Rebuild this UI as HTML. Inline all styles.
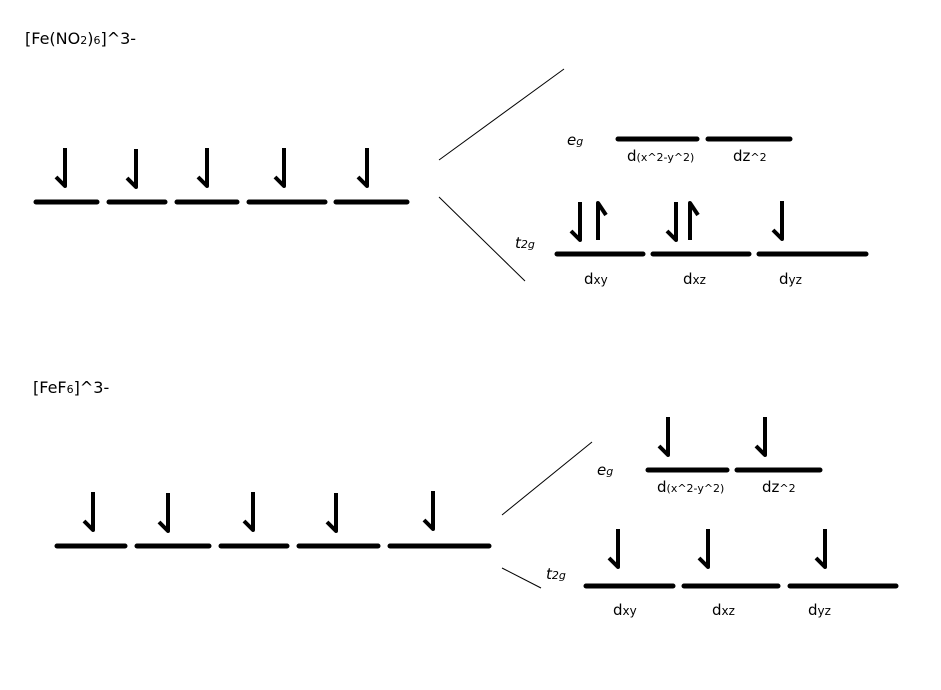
<!DOCTYPE html>
<html><head><style>
html,body{margin:0;padding:0;background:#fff;}
svg{display:block;font-family:"DejaVu Sans","Liberation Sans",sans-serif;}
.l{stroke:#000;stroke-width:5;stroke-linecap:round}
.a{stroke:#000;stroke-width:4;fill:none;stroke-linejoin:round}
.t{stroke:#000;stroke-width:1;}
text{fill:#000}
</style></head><body>
<svg width="941" height="690" viewBox="0 0 941 690" xmlns="http://www.w3.org/2000/svg">
<defs>
<path id="dn" class="a" d="M0 -38 L0 0 L-9 -9"/>
<path id="up" class="a" d="M0 0 L0 -37 L8 -25"/>
</defs>
<text x="25" y="44" font-size="16">[Fe(NO<tspan font-size="11">2</tspan>)<tspan font-size="11">6</tspan>]^3-</text>
<!-- top left levels -->
<line class="l" x1="36" y1="202" x2="97" y2="202"/>
<line class="l" x1="109" y1="202" x2="165" y2="202"/>
<line class="l" x1="177" y1="202" x2="237" y2="202"/>
<line class="l" x1="249" y1="202" x2="325" y2="202"/>
<line class="l" x1="336" y1="202" x2="407" y2="202"/>
<use href="#dn" x="65" y="186"/><use href="#dn" x="136" y="187"/><use href="#dn" x="207" y="186"/><use href="#dn" x="284" y="186"/><use href="#dn" x="367" y="186"/>
<line class="t" x1="439" y1="160" x2="564" y2="69"/>
<line class="t" x1="439" y1="197" x2="525" y2="281"/>
<text x="567" y="145" font-size="15" font-style="italic">e<tspan font-size="11">g</tspan></text>
<line class="l" x1="618" y1="139" x2="697" y2="139"/>
<line class="l" x1="708" y1="139" x2="790" y2="139"/>
<text x="627" y="161" font-size="15">d<tspan font-size="11">(x^2-y^2)</tspan></text>
<text x="733" y="161" font-size="15">dz<tspan font-size="11">^2</tspan></text>
<text x="515" y="248" font-size="15" font-style="italic">t<tspan font-size="11">2g</tspan></text>
<line class="l" x1="557" y1="254" x2="643" y2="254"/>
<line class="l" x1="653" y1="254" x2="749" y2="254"/>
<line class="l" x1="759" y1="254" x2="866" y2="254"/>
<use href="#dn" x="580" y="240"/><use href="#up" x="598" y="240"/>
<use href="#dn" x="676" y="240"/><use href="#up" x="690" y="240"/>
<use href="#dn" x="782" y="239"/>
<text x="584" y="284" font-size="15">d<tspan font-size="12">xy</tspan></text>
<text x="683" y="284" font-size="15">d<tspan font-size="12">xz</tspan></text>
<text x="779" y="284" font-size="15">d<tspan font-size="12">yz</tspan></text>

<text x="33" y="393" font-size="16">[FeF<tspan font-size="11">6</tspan>]^3-</text>
<line class="l" x1="57" y1="546" x2="125" y2="546"/>
<line class="l" x1="137" y1="546" x2="209" y2="546"/>
<line class="l" x1="221" y1="546" x2="287" y2="546"/>
<line class="l" x1="299" y1="546" x2="378" y2="546"/>
<line class="l" x1="390" y1="546" x2="489" y2="546"/>
<use href="#dn" x="93" y="530"/><use href="#dn" x="168" y="531"/><use href="#dn" x="253" y="530"/><use href="#dn" x="336" y="531"/><use href="#dn" x="433" y="529"/>
<line class="t" x1="502" y1="515" x2="592" y2="442"/>
<line class="t" x1="502" y1="568" x2="541" y2="588"/>
<text x="597" y="475" font-size="15" font-style="italic">e<tspan font-size="11">g</tspan></text>
<line class="l" x1="648" y1="470" x2="727" y2="470"/>
<line class="l" x1="737" y1="470" x2="820" y2="470"/>
<use href="#dn" x="668" y="455"/><use href="#dn" x="765" y="455"/>
<text x="657" y="492" font-size="15">d<tspan font-size="11">(x^2-y^2)</tspan></text>
<text x="762" y="492" font-size="15">dz<tspan font-size="11">^2</tspan></text>
<text x="546" y="579" font-size="15" font-style="italic">t<tspan font-size="11">2g</tspan></text>
<line class="l" x1="586" y1="586" x2="673" y2="586"/>
<line class="l" x1="684" y1="586" x2="778" y2="586"/>
<line class="l" x1="790" y1="586" x2="896" y2="586"/>
<use href="#dn" x="618" y="567"/><use href="#dn" x="708" y="567"/><use href="#dn" x="825" y="567"/>
<text x="613" y="615" font-size="15">d<tspan font-size="12">xy</tspan></text>
<text x="712" y="615" font-size="15">d<tspan font-size="12">xz</tspan></text>
<text x="808" y="615" font-size="15">d<tspan font-size="12">yz</tspan></text>
</svg>
</body></html>
